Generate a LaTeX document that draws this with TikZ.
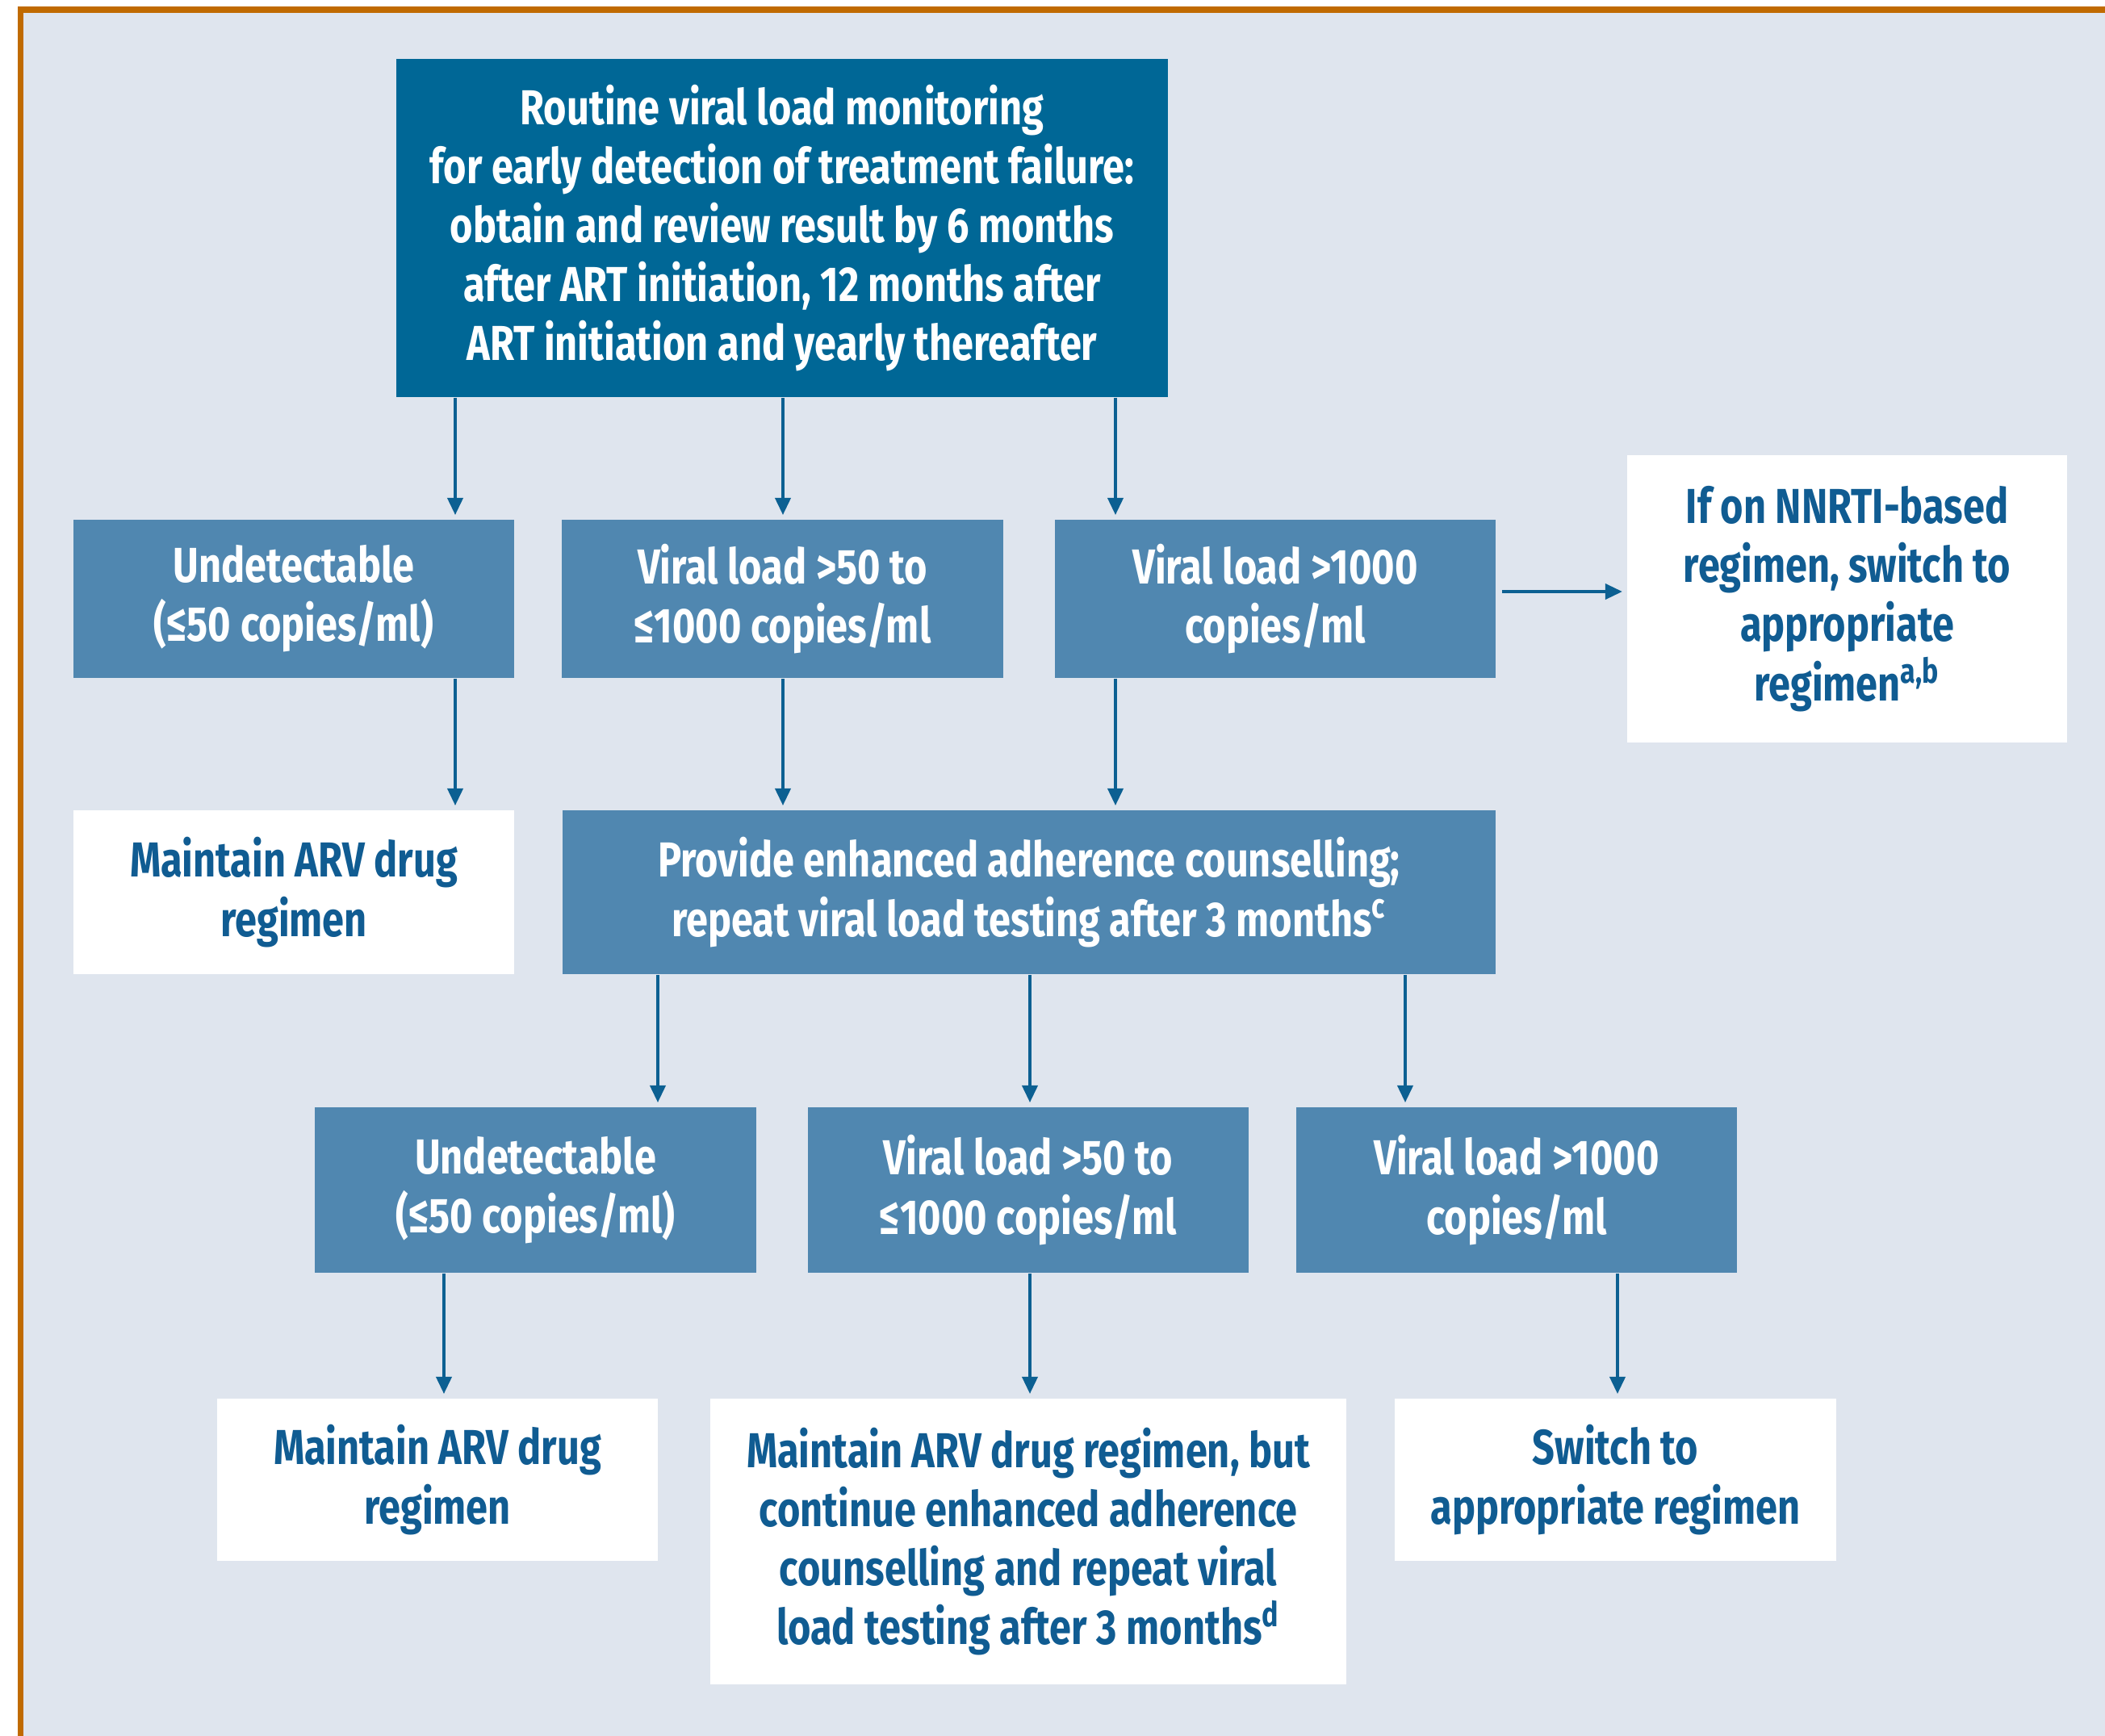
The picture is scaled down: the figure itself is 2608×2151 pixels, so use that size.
\documentclass[tikz,border=0pt]{standalone}
\usepackage{fontspec}
\setmainfont[FakeStretch=0.8]{Fira Sans}
\usepackage{tikz}
\usetikzlibrary{arrows.meta}
\definecolor{cDark}{RGB}{0,103,150}
\definecolor{cMid}{RGB}{80,135,176}
\definecolor{cBg}{RGB}{223,229,238}
\definecolor{cFrame}{RGB}{192,106,0}
\definecolor{cText}{RGB}{16,92,146}
\definecolor{cArrow}{RGB}{12,96,146}

\begin{document}
\begin{tikzpicture}[x=0.01cm,y=-0.01cm,
		font=\bfseries\fontsize{17.3}{20.8}\selectfont,
		box/.style={rectangle, inner sep=0pt, minimum width=5.46cm, align=center},
		boxdark/.style={box, fill=cDark, text=white},
		boxmid/.style={box, fill=cMid, text=white},
		boxwhite/.style={box, fill=white, text=cText},
		arr/.style={-{Triangle[length=6pt,width=5.5pt]}, draw=cArrow, fill=cArrow,
			line width=0.9pt, shorten >=1.5pt}]
		% Fond et cadre
		\fill[white] (0,0) rectangle (2608,2151);
		\fill[cBg] (29,16) rectangle (2608,2151);
		\fill[cFrame] (22,8) rectangle (29,2151);
		\fill[cFrame] (22,8) rectangle (2608,16);
		
		% Suivi de routine
		\node[boxdark, minimum width=9.56cm, minimum height=4.19cm] (top) at (969,282.5)
		{Routine viral load monitoring\\for early detection of treatment failure:\\obtain and review result by 6 months\\after ART initiation, 12 months after\\ART initiation and yearly thereafter};
		
		% Premier test
		\node[boxmid, minimum height=1.96cm] (und1) at (364,742)
		{Undetectable\\(≤50 copies/ml)};
		\node[boxmid, minimum height=1.96cm] (mid1) at (969.5,742)
		{Viral load >50 to\\≤1000 copies/ml};
		\node[boxmid, minimum height=1.96cm] (high1) at (1580,742)
		{Viral load >1000\\copies/ml};
		\node[boxwhite, minimum width=5.45cm, minimum height=3.56cm] (nnrti) at (2288.5,742)
		{If on NNRTI-based\\regimen, switch to\\appropriate\\regimen\textsuperscript{a,b}};
		
		% Conseil
		\node[boxwhite, minimum height=2.03cm] (keep1) at (364,1105.5)
		{Maintain ARV drug\\regimen};
		\node[boxmid, minimum width=11.56cm, minimum height=2.03cm] (eac) at (1275,1105.5)
		{Provide enhanced adherence counselling;\\repeat viral load testing after 3 months\textsuperscript{c}};
		
		% Second test
		\node[boxmid, minimum height=2.05cm] (und2) at (663.5,1474.5)
		{Undetectable\\(≤50 copies/ml)};
		\node[boxmid, minimum height=2.05cm] (mid2) at (1274,1474.5)
		{Viral load >50 to\\≤1000 copies/ml};
		\node[boxmid, minimum height=2.05cm] (high2) at (1879,1474.5)
		{Viral load >1000\\copies/ml};
		
		% Décisions
		\node[boxwhite, minimum height=2.01cm] (keep2) at (542,1833.5)
		{Maintain ARV drug\\regimen};
		\node[boxwhite, minimum width=7.88cm, minimum height=3.54cm] (cont) at (1274,1910)
		{Maintain ARV drug regimen, but\\continue enhanced adherence\\counselling and repeat viral\\load testing after 3 months\textsuperscript{d}};
		\node[boxwhite, minimum width=5.47cm, minimum height=2.01cm] (switch) at (2001.5,1833.5)
		{Switch to\\appropriate regimen};
		
		% Flèches
		\foreach \xx in {564,970,1382}
		\draw[arr] (\xx,0 |- top.south) -- (\xx,0 |- und1.north);
		\draw[arr] (564,0 |- und1.south) -- (564,0 |- keep1.north);
		\foreach \xx in {970,1382}
		\draw[arr] (\xx,0 |- mid1.south) -- (\xx,0 |- eac.north);
		\draw[arr, shorten <=2pt] (high1.east |- 0,733) -- (nnrti.west |- 0,733);
		\foreach \xx in {815,1276,1741}
		\draw[arr] (\xx,0 |- eac.south) -- (\xx,0 |- und2.north);
		\draw[arr] (550,0 |- und2.south) -- (550,0 |- keep2.north);
		\draw[arr] (1276,0 |- mid2.south) -- (1276,0 |- cont.north);
		\draw[arr] (2004,0 |- high2.south) -- (2004,0 |- switch.north);
	\end{tikzpicture}
\end{document}
